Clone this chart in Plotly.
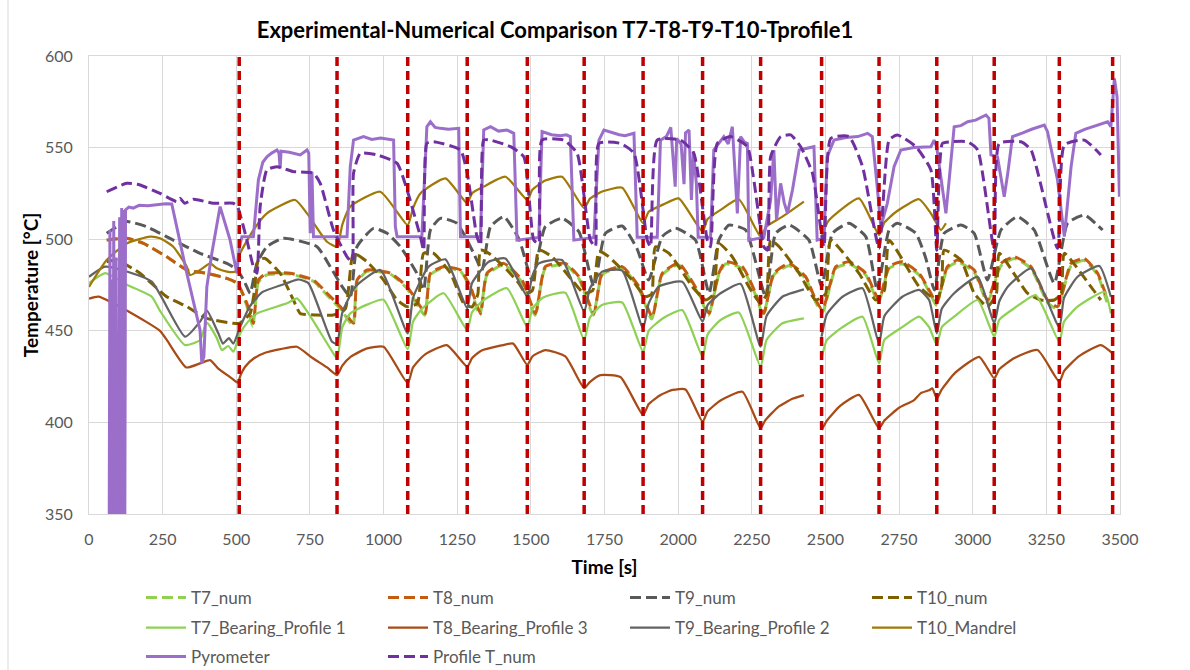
import plotly.graph_objects as go

# ---------------- data (time in s, temperature in °C) ----------------
cycle_starts = [510, 842, 1082, 1284, 1488, 1681, 1881, 2083, 2280, 2487, 2682, 2878, 3073, 3294, 3475]
y_range = [350, 600]
x_ticks = list(range(0, 3501, 250))

t7n_time = [60, 128, 185, 264, 332, 400, 468, 504, 536, 556,
            575, 604, 683, 762, 808, 853, 896, 910, 944, 1023,
            1080, 1123, 1140, 1159, 1204, 1261, 1295, 1327, 1351, 1408,
            1470, 1514, 1549, 1617, 1663, 1712, 1742, 1810, 1867, 1910,
            1946, 2002, 2071, 2103, 2138, 2161, 2218, 2263, 2289, 2325,
            2377, 2433, 2467, 2490, 2535, 2580, 2637, 2680, 2716, 2761,
            2818, 2858, 2876, 2914, 2949, 3005, 3050, 3096, 3141, 3198,
            3254, 3286, 3334, 3379, 3424, 3456]
t7n_vals = [499.5, 500.5, 497.7, 490.4, 483.2, 481.4, 478.6, 475.9, 463.5, 452.5,
            476.5, 480.5, 481, 477, 469.5, 462, 453, 476.5, 482.5, 481,
            473, 462, 458.5, 480.5, 484.5, 482.5, 473, 458.5, 480.5, 486,
            476.5, 458.5, 484, 486, 478.5, 458.5, 480.5, 484.5, 473, 456.5,
            480.5, 486, 469.5, 458.5, 480.5, 486.5, 484, 469.5, 458.5, 480.5,
            485.5, 478.5, 465.5, 460, 484, 486.5, 480.5, 465.5, 484, 486.5,
            480.5, 469.5, 464, 484, 487.5, 482, 465.5, 485.5, 489.5, 484,
            465.5, 462, 485.5, 488.5, 480.5, 465.5]

t8n_time = [60, 128, 185, 264, 332, 400, 468, 504, 536, 558,
            575, 604, 683, 762, 808, 853, 898, 910, 944, 1023,
            1080, 1125, 1142, 1159, 1204, 1261, 1295, 1329, 1351, 1408,
            1470, 1516, 1549, 1617, 1663, 1714, 1742, 1810, 1867, 1912,
            1946, 2002, 2071, 2105, 2138, 2161, 2218, 2263, 2291, 2325,
            2377, 2433, 2467, 2490, 2535, 2580, 2637, 2682, 2716, 2761,
            2818, 2858, 2878, 2914, 2949, 3005, 3050, 3096, 3141, 3198,
            3254, 3288, 3334, 3379, 3424, 3458]
t8n_vals = [499.5, 500.5, 497.7, 490.4, 483.2, 481.4, 478.6, 475.9, 465, 454.1,
            477.7, 481.4, 481.4, 477.7, 470.5, 463.2, 454.1, 477.7, 483.2, 481.4,
            474.1, 463.2, 459.5, 481.4, 485, 483.2, 474.1, 459.5, 481.4, 486.8,
            477.7, 459.5, 485, 486.8, 479.5, 459.5, 481.4, 485, 474.1, 457.7,
            481.4, 486.8, 470.5, 459.5, 481.4, 487.7, 485, 470.5, 459.5, 481.4,
            486.8, 479.5, 466.8, 461.3, 485, 487.7, 481.4, 466.8, 485, 487.7,
            481.4, 470.5, 465, 485, 488.6, 483.2, 466.8, 486.8, 490.4, 485,
            466.8, 463.2, 486.8, 489.5, 481.4, 466.8]

t9n_time = [60, 128, 196, 286, 377, 468, 504, 530, 547, 570,
            604, 660, 774, 819, 860, 887, 910, 966, 1012, 1057,
            1113, 1136, 1159, 1193, 1249, 1306, 1334, 1363, 1408, 1460,
            1504, 1549, 1606, 1663, 1714, 1753, 1810, 1860, 1900, 1946,
            1991, 2059, 2105, 2138, 2172, 2229, 2297, 2331, 2377, 2444,
            2487, 2524, 2580, 2637, 2676, 2716, 2744, 2807, 2840, 2870,
            2903, 2960, 3005, 3050, 3096, 3152, 3209, 3277, 3322, 3379,
            3441]
t9n_vals = [503.2, 509.6, 506.8, 499.5, 492.3, 486.8, 483.2, 476, 470.5, 486.8,
            495.9, 500.5, 495.9, 485, 474, 468.6, 495.9, 505.9, 503.2, 495.9,
            481.4, 472.3, 505, 511.4, 508.7, 492.3, 483.2, 506.8, 512.3, 500,
            477.7, 506.8, 511.4, 504.1, 474.1, 503.2, 507.2, 495, 477.7, 501.4,
            506, 499.5, 470.5, 499.5, 507.7, 505, 468.6, 503.2, 507.7, 499.5,
            474.1, 503.2, 508.7, 501.4, 472.3, 505, 508.7, 503.2, 490, 472.3,
            503.2, 507.7, 503.2, 477.7, 505, 512.3, 505, 475.9, 508.7, 513.2,
            505]

t10n_time = [60, 94, 173, 264, 332, 400, 490, 510, 547, 560,
             575, 598, 649, 694, 717, 774, 830, 870, 898, 944,
             1000, 1046, 1080, 1115, 1136, 1170, 1227, 1272, 1300, 1320,
             1329, 1360, 1419, 1459, 1482, 1505, 1527, 1572, 1640, 1680,
             1710, 1731, 1760, 1844, 1889, 1910, 1923, 1969, 2048, 2093,
             2120, 2138, 2184, 2240, 2280, 2300, 2314, 2343, 2411, 2467,
             2500, 2518, 2614, 2671, 2700, 2716, 2818, 2878, 2895, 2903,
             2960, 3005, 3050, 3080, 3090, 3186, 3231, 3277, 3300, 3311,
             3401, 3435]
t10n_vals = [487.7, 488.6, 481.4, 468.6, 463.2, 456.8, 454.1, 454.1, 459.5, 470,
             488.6, 489.5, 481.4, 466.8, 459.5, 458.6, 458.6, 462, 492.3, 487.7,
             477.7, 466.8, 463.2, 465, 492.3, 492.3, 481.4, 465, 463, 470,
             494, 492, 483.2, 475.9, 470.5, 472, 494, 490.4, 477.7, 470.5,
             472, 493.2, 491, 477.7, 468.6, 470, 495.9, 492.3, 474.1, 466.8,
             470, 497.7, 490.4, 474.1, 465, 470, 499.5, 495.9, 481.4, 466.8,
             470, 499.5, 481.4, 466.8, 472, 499.5, 474.1, 466.8, 475, 494,
             488.6, 470.5, 463.2, 470, 492.3, 470.5, 466.8, 466.8, 470, 492.3,
             474.1, 466.8]

t7b_time = [0, 55, 130, 213, 243, 326, 377, 400, 434, 451,
            473, 490, 513, 540, 570, 672, 706, 745, 819, 842,
            860, 887, 940, 1000, 1082, 1100, 1130, 1204, 1284, 1300,
            1340, 1419, 1488, 1505, 1540, 1617, 1681, 1700, 1740, 1810,
            1881, 1900, 1950, 2014, 2083, 2100, 2144, 2206, 2280, 2300,
            2354, 2427, 2457, 2487, 2505, 2558, 2626, 2682, 2700, 2761,
            2818, 2852, 2878, 2895, 2937, 3017, 3073, 3090, 3141, 3214,
            3294, 3310, 3356, 3447, 3469]
t7b_vals = [476, 481.5, 475, 468.6, 460.4, 442.2, 445, 454.4, 446, 439.5,
            441.7, 438.6, 448.6, 455, 459.5, 465, 467.7, 459.5, 440.4, 435,
            452, 459.5, 464, 467, 440, 455, 462, 470.5, 450.4, 460,
            466.8, 473.2, 452, 462, 468, 470.8, 445, 457, 464, 465.5,
            438.6, 450, 457, 461.3, 435.9, 448, 455.9, 460, 430.4, 445,
            454.1, 456.8, None, 435, 445, 452, 457.7, 432.2, 445, 452,
            457.7, 452, 442.2, 452, 457.7, 466.8, 446.8, 456, 462.3, 469.5,
            444, 455, 463.2, 471.3, 459.5]

t8b_time = [0, 32, 140, 241, 264, 330, 377, 411, 438, 485,
            505, 515, 530, 560, 598, 650, 706, 760, 808, 842,
            860, 890, 944, 1000, 1082, 1100, 1140, 1215, 1284, 1300,
            1330, 1400, 1440, 1488, 1505, 1549, 1617, 1681, 1700, 1736,
            1804, 1881, 1900, 1940, 1981, 2025, 2083, 2100, 2144, 2218,
            2280, 2295, 2340, 2390, 2427, 2457, 2487, 2505, 2550, 2614,
            2682, 2700, 2750, 2800, 2824, 2852, 2863, 2878, 2895, 2940,
            3022, 3073, 3090, 3140, 3220, 3294, 3310, 3360, 3435, 3475]
t8b_vals = [467.5, 468.6, 460, 450, 445, 430, 432.2, 434, 429.5, 424,
            421.7, 426, 430.4, 435, 438, 440, 441.3, 435, 430, 425.8,
            431, 436, 440.4, 441.3, 421.4, 430, 437, 442.2, 430.4, 435,
            439, 442, 443, 431.3, 436, 439.5, 436, 418.7, 422, 425.8,
            424.8, 404, 410, 415, 417.7, 418, 400.4, 406, 412, 416.7,
            396.8, 401, 408.5, 413, 414.9, None, 395.8, 401, 409, 415,
            396.8, 401, 408, 412, 416, 417.5, 418.6, 413, 418, 427,
            435.8, 424, 429, 435, 439.5, 422.2, 428, 436, 442.2, 437.7]

t9b_time = [0, 54, 111, 213, 326, 377, 400, 439, 455, 475,
            490, 513, 545, 587, 672, 711, 745, 825, 842, 860,
            904, 989, 1082, 1100, 1153, 1210, 1284, 1300, 1357, 1414,
            1488, 1505, 1527, 1606, 1681, 1700, 1742, 1810, 1881, 1900,
            1934, 2014, 2083, 2100, 2144, 2212, 2280, 2300, 2354, 2427,
            2457, 2487, 2505, 2558, 2626, 2682, 2700, 2761, 2818, 2852,
            2878, 2895, 2937, 3017, 3073, 3090, 3119, 3198, 3294, 3310,
            3356, 3430, 3469]
t9b_vals = [479.5, 485, 483.2, 476.8, 446.8, 455, 461, 448.6, 443, 446,
            443, 452, 463, 471, 476, 478, 476, 444, 443, 460,
            474, 483.2, 448.6, 468, 485, 489, 462.3, 476, 487.7, 489.5,
            468.6, 480, 486.8, 488.6, 460.4, 473, 482.3, 482.9, 451.3, 465,
            474.1, 476.8, 455, 464, 470.5, 475.6, 441.3, 458, 468.6, 472.6,
            None, 446.8, 459, 468.6, 473.2, 443, 458, 468.6, 472.3, 466.8,
            448.6, 462, 470.5, 479.5, 454.1, 466, 474.1, 484.1, 452, 468,
            479.5, 485.4, 468.6]

t10m_time = [0, 60, 128, 207, 241, 286, 332, 343, 377, 411,
             434, 468, 496, 513, 558, 604, 700, 740, 808, 842,
             860, 887, 989, 1082, 1100, 1125, 1210, 1284, 1300, 1340,
             1414, 1488, 1505, 1549, 1606, 1681, 1700, 1742, 1810, 1881,
             1900, 1950, 2002, 2083, 2100, 2144, 2206, 2280, 2300, 2354,
             2427, 2457, 2487, 2510, 2614, 2682, 2700, 2740, 2818, 2858,
             2892, 2909]
t10m_vals = [474, 488.6, 497.7, 501.4, 500.5, 495.9, 485, 480.4, 483.2, 486.8,
             484.1, 482.3, 482.3, 492.3, 505, 514.1, 521.4, 514.1, 498.6, 495.9,
             508, 517.8, 525.9, 507.7, 517, 525, 533.2, 519.6, 525, 528.7,
             534.1, 521.4, 527, 532, 534.1, 516.9, 522, 526, 528.1, 508.7,
             515, 519, 522.3, 504.1, 511, 516, 521.8, 501.4, 507, 512.3,
             520.5, None, 501.4, 510, 522.3, 502.3, 509, 515, 521.8, 514.1,
             505, 508.7]

pyro_time = [68, 71, 74, 77, 80, 84, 88, 92, 96, 101,
             104, 107, 111, 114, 118, 121, 124, 135, 150, 170,
             200, 230, 260, 281, 300, 332, 377, 383, 390, 400,
             417, 445, 479, 502, 510, 519, 558, 575, 590, 604,
             620, 638, 645, 649, 652, 680, 717, 740, 746, 751,
             754, 757, 762, 876, 887, 898, 932, 960, 990, 1034,
             1040, 1046, 1130, 1147, 1159, 1175, 1193, 1220, 1255, 1261,
             1329, 1340, 1363, 1390, 1419, 1442, 1453, 1527, 1538, 1570,
             1600, 1620, 1634, 1646, 1714, 1731, 1748, 1780, 1800, 1820,
             1850, 1861, 1929, 1940, 1960, 1975, 1990, 1995, 2010, 2020,
             2025, 2037, 2045, 2052, 2062, 2068, 2110, 2121, 2155, 2170,
             2184, 2190, 2201, 2212, 2225, 2235, 2240, 2291, 2314, 2325,
             2334, 2348, 2360, 2371, 2388, 2411, 2430, 2461, 2472, 2495,
             2506, 2529, 2570, 2610, 2643, 2659, 2675, 2688, 2710, 2733,
             2756, 2800, 2858, 2869, 2878, 2897, 2909, 2920, 2937, 2960,
             2983, 3010, 3045, 3055, 3062, 3084, 3107, 3119, 3135, 3170,
             3200, 3243, 3254, 3288, 3311, 3334, 3350, 3380, 3420, 3458,
             3469, 3481, 3490, 3498]
pyro_vals = [300, 505, 300, 478, 300, 510, 300, 490, 300, 300,
             512, 300, 517, 300, 516, 300, 516, 517.5, 517, 518.5,
             518.2, 519, 519.4, 519.2, 505, 481.4, 450.4, 432.2, 436, 474,
             492.3, 517.8, 499.5, 481.4, 495, 501.4, 501.4, 532.3, 542, 545,
             547, 548.7, 547, 538.7, 548, 547.5, 546, 548.7, 547, 503.2,
             536, 536, 501.4, 501.4, 539.6, 554.1, 556, 554.5, 555.2, 554.1,
             506.8, 501.4, 501.4, 561.4, 564.1, 561, 560.5, 560, 560.5, 501.4,
             501.4, 559.6, 561.4, 559, 559.6, 557.8, 499.5, 501, 558.7, 557,
             556.5, 557, 556, 499.5, 501, 554, 559.6, 558, 557, 556.5,
             557.8, 501, 501, 554.1, 556, 561, 528.7, 555, 552, 530,
             558, 559.6, 521.4, 548, 530, 501, 501, 548.7, 556, 552,
             561.4, 545, 514.1, 556, 553, 552.3, 499.5, 501, 521.4, 548.7,
             510.5, 530.5, 520, 514.1, 526.8, 548.7, 549.5, 550.5, 499.5, 500.5,
             545, 554.1, 555.5, 556, 557.8, 556, 530, 506.8, 519.6, 539.6,
             548.7, 550, 550.5, 554.1, 550, 526.8, 514.1, 532.3, 561.4, 562,
             564.1, 565, 567.8, 566, 546, 545, 523.2, 536, 556, 558,
             560, 562.3, 558.7, 532.3, 501.4, 539.6, 557.8, 560, 562, 564.1,
             561.4, 587.8, 577.8, 523.2]

proft_time = [60, 128, 173, 241, 298, 309, 325, 354, 422, 490,
              504, 536, 558, 570, 581, 604, 638, 694, 762, 785,
              830, 876, 893, 898, 921, 978, 1046, 1080, 1125, 1136,
              1147, 1170, 1261, 1284, 1317, 1329, 1340, 1363, 1431, 1476,
              1510, 1527, 1538, 1612, 1657, 1702, 1719, 1731, 1804, 1850,
              1895, 1906, 1929, 2008, 2053, 2099, 2110, 2133, 2178, 2235,
              2257, 2291, 2303, 2314, 2348, 2382, 2416, 2456, 2495, 2518,
              2580, 2626, 2682, 2716, 2744, 2807, 2858, 2878, 2897, 2926,
              2983, 3017, 3073, 3090, 3164, 3198, 3288, 3311, 3379, 3435]
proft_vals = [525.9, 530.5, 529.6, 525, 520.5, 522.3, 519.6, 521.8, 519.6, 519.6,
              517.8, 499.5, 485, 481.4, 517.8, 537.8, 539.6, 536.9, 536, 530.5,
              505, 490.4, 487.7, 536, 546.9, 546, 541.4, 526.8, 501.4, 494,
              552.3, 553.2, 548.7, 536, 501.4, 496.8, 554.1, 554.1, 550.5, 545,
              499.5, 497.7, 554.1, 554.1, 546.9, 499.5, 495.9, 552.3, 552.3, 546.9,
              499.5, 495.9, 554.1, 554.1, 546.9, 499.5, 495.9, 552.3, 556, 550.5,
              532.3, 495.9, 494, 545, 556, 556.9, 550.5, 536, 495.9, 555,
              556, 539.6, 495, 554.1, 556.9, 550.5, 537.8, 494, 552.3, 553.2,
              553.2, 548.7, 494, 552.3, 553.2, 548.7, 495, 551.4, 554.1, 546]

# ---------------- figure ----------------
FONT = "Lato, 'Liberation Sans', Arial, sans-serif"
NUM_DASH = "11px,5px"
fig = go.Figure()


def add(name, t, v, color, width, dash, legend, shape="spline"):
    if len(t) != len(v):
        raise ValueError(f"{name}: {len(t)} vs {len(v)}")
    fig.add_trace(go.Scatter(
        x=t, y=v, name=name, mode="lines", legend=legend,
        line=dict(color=color, width=width, dash=dash, shape=shape,
                  smoothing=0.5 if shape == "spline" else None),
        connectgaps=False))


add("T7_num", t7n_time, t7n_vals, "#92D050", 3, NUM_DASH, "legend")
add("T8_num", t8n_time, t8n_vals, "#C55A11", 3, NUM_DASH, "legend")
add("T9_num", t9n_time, t9n_vals, "#595959", 3, NUM_DASH, "legend")
add("T10_num", t10n_time, t10n_vals, "#7F6000", 3, NUM_DASH, "legend")
add("T7_Bearing_Profile 1", t7b_time, t7b_vals, "#8ED155", 2.25, "solid", "legend2")
add("T8_Bearing_Profile 3", t8b_time, t8b_vals, "#A84B16", 2.25, "solid", "legend2")
add("T9_Bearing_Profile 2", t9b_time, t9b_vals, "#636363", 2.25, "solid", "legend2")
add("T10_Mandrel", t10m_time, t10m_vals, "#A07A06", 2.25, "solid", "legend2")
add("Pyrometer", pyro_time, pyro_vals, "#9B6FC9", 3, "solid", "legend3", shape="linear")
add("Profile T_num", proft_time, proft_vals, "#7030A0", 3, NUM_DASH, "legend3")

# vertical red dashed markers at cycle starts
vx, vy = [], []
for b in cycle_starts:
    vx += [b, b, None]
    vy += [y_range[0], y_range[1], None]
fig.add_trace(go.Scatter(x=vx, y=vy, mode="lines", showlegend=False,
                         line=dict(color="#C00000", width=3.5, dash="9px,5px")))

leg_common = dict(orientation="h", xanchor="left", yanchor="middle",
                  xref="container", yref="container",
                  entrywidth=187, entrywidthmode="pixels", itemwidth=40,
                  font=dict(family=FONT, size=17, color="#595959"),
                  bgcolor="rgba(0,0,0,0)", tracegroupgap=0)

fig.update_layout(
    width=1190, height=670,
    margin=dict(l=89, r=70, t=56, b=156, autoexpand=False),
    paper_bgcolor="white", plot_bgcolor="white",
    font=dict(family=FONT, color="#595959"),
    title=dict(text="Experimental-Numerical Comparison T7-T8-T9-T10-Tprofile1",
               font=dict(family=FONT, size=22, color="#000000", weight="bold"),
               x=555 / 1190, xanchor="center", xref="container",
               y=1 - 30 / 670, yanchor="middle", yref="container"),
    xaxis=dict(range=[0, 3500], tickvals=x_ticks, showgrid=True, gridcolor="#D9D9D9",
               gridwidth=1, zeroline=False, showline=True, linecolor="#D9D9D9", mirror=True,
               ticks="", tickfont=dict(family=FONT, size=16, color="#595959"),
               ticklabelstandoff=11, automargin=False,
               title=dict(text="Time [s]", standoff=13,
                          font=dict(family=FONT, size=19, color="#000000", weight="bold"))),
    yaxis=dict(range=y_range, dtick=50, showgrid=True, gridcolor="#D9D9D9",
               gridwidth=1, zeroline=False, showline=True, linecolor="#D9D9D9", mirror=True,
               ticks="", tickfont=dict(family=FONT, size=16, color="#595959"),
               ticklabelstandoff=12, automargin=False,
               title=dict(text="Temperature [°C]", standoff=1,
                          font=dict(family=FONT, size=19, color="#000000", weight="bold"))),
    legend=dict(x=141 / 1190, y=1 - 598 / 670, **leg_common),
    legend2=dict(x=141 / 1190, y=1 - 628 / 670, **leg_common),
    legend3=dict(x=141 / 1190, y=1 - 657 / 670, **leg_common),
    shapes=[dict(type="line", xref="paper", yref="paper",
                 x0=(8 - 89) / 1031, x1=(8 - 89) / 1031, y0=-0.345, y1=1.125,
                 line=dict(color="#D9D9D9", width=1))],
)

fig.write_html("out.html")
